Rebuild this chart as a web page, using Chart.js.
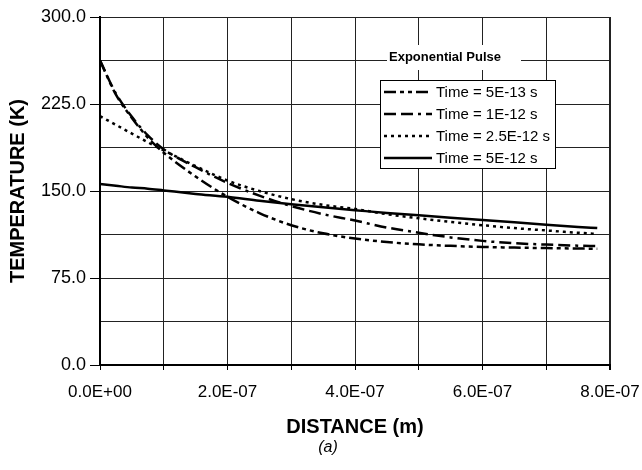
<!DOCTYPE html>
<html><head><meta charset="utf-8">
<script src="https://cdn.jsdelivr.net/npm/chart.js@4/dist/chart.umd.min.js"></script>
<style>html,body{margin:0;padding:0;background:#fff}#wrap{width:642px;height:470px;position:relative}canvas{display:block}</style>
</head><body><div id="wrap"><canvas id="c" width="642" height="470"></canvas></div>
<script>
// Distance along the sample (m)
const distance = [0,0.25e-7,0.5e-7,0.75e-7,1e-7,1.5e-7,2e-7,2.5e-7,3e-7,3.5e-7,4e-7,4.5e-7,5e-7,5.5e-7,6e-7,6.5e-7,7e-7,7.5e-7,7.8e-7];
// Temperature (K) for each time
const temp5e13  = [262.5,233,213,196,183,162.5,145,131,120.5,113.5,109,106,104,102.7,101.8,101.2,100.8,100.4,100.2];
const temp1e12  = [262.5,234,214,198,186,170.5,157,146,137,130,124.5,118.5,114,110,107,105,103.8,102.9,102.5];
const temp25e12 = [214.5,207,199.5,192,185,171.5,159,150,143,138,134.5,130,126.5,123.3,120.5,118,116,114,113];
const temp5e12  = [156,154.5,153,152,150.5,147.5,145,141.5,138.5,136,133.5,131,129,127,125,123,121,119,118];
const seriesLabels = ['Time = 5E-13 s','Time = 1E-12 s','Time = 2.5E-12 s','Time = 5E-12 s'];
const legendTitle = 'Exponential Pulse';
const xTitle = 'DISTANCE (m)';
const yTitle = 'TEMPERATURE (K)';
const caption = '(a)';

const FONT = "'Liberation Sans', Arial, sans-serif";
const pts = ys => ys.map((y,i)=>({x:distance[i], y}));
const dashes = [[12,4,4,4,4,4],[12,5,12,5,3,5],[3,4],[]];
const seriesValues = [temp5e13,temp1e12,temp25e12,temp5e12];

function fmtExp(v){
  if (Math.abs(v) < 1e-12) return '0.0E+00';
  const s = v.toExponential(1); const [m,e] = s.split('e');
  const n = parseInt(e,10); const sign = n<0?'-':'+';
  return m + 'E' + sign + String(Math.abs(n)).padStart(2,'0');
}

const legendPlugin = {
  id:'customLegend',
  afterDraw(chart){
    const ctx = chart.ctx, ca = chart.chartArea;
    ctx.save();
    // title with white background
    const tx = ca.left + 345, ty = ca.top + 40;
    ctx.fillStyle = '#fff';
    ctx.fillRect(ca.left + 287, ca.top + 28, 134, 25);
    ctx.font = "bold 13px " + FONT;
    ctx.fillStyle = '#000'; ctx.textAlign='center'; ctx.textBaseline='middle';
    ctx.fillText(legendTitle, tx, ty);
    // box
    const bx = ca.left + 280, by = ca.top + 63, bw = 175, bh = 88;
    ctx.fillStyle = '#fff'; ctx.fillRect(bx, by, bw, bh);
    ctx.strokeStyle = '#000'; ctx.lineWidth = 1; ctx.strokeRect(bx+0.5, by+0.5, bw, bh);
    ctx.font = "15px " + FONT; ctx.textAlign='left';
    chart.data.datasets.forEach((ds,i)=>{
      const y = by + 12 + i*22;
      ctx.beginPath(); ctx.setLineDash(ds.borderDash||[]); ctx.lineWidth = 2.5;
      ctx.moveTo(bx+4, y); ctx.lineTo(bx+52, y); ctx.stroke();
      ctx.setLineDash([]);
      ctx.fillStyle='#000'; ctx.fillText(ds.label, bx+56, y+1);
    });
    // caption
    ctx.font = "italic 16px " + FONT; ctx.textAlign='center';
    ctx.fillText(caption, (ca.left+ca.right)/2 - 27, ca.bottom + 83);
    ctx.restore();
  }
};

new Chart(document.getElementById('c'), {
  type:'line',
  data:{ datasets: seriesValues.map((v,i)=>({
    label: seriesLabels[i], data: pts(v), borderColor:'#000', borderWidth:2.5,
    borderDash: dashes[i], pointRadius:0, fill:false, cubicInterpolationMode:'monotone'
  }))},
  options:{
    responsive:false, animation:false, devicePixelRatio:1,
    layout:{padding:{top:17,right:32,left:0,bottom:20}},
    plugins:{ legend:{display:false}, tooltip:{enabled:false} },
    scales:{
      x:{type:'linear', min:0, max:8e-7,
        afterFit(s){ s.height = 85; s.paddingRight = 0; s.paddingLeft = 0; },
        border:{color:'#000', width:2},
        grid:{color:'#222', lineWidth: c => (c.tick && Math.abs(c.tick.value-8e-7)<1e-12) ? 2 : 1, tickLength:5, tickColor:'#000'},
        ticks:{stepSize:1e-7, autoSkip:false, maxRotation:0, color:'#000', padding:12,
          font:{family:FONT, size:17},
          callback:v => (Math.round(v/1e-7)%2===0 ? fmtExp(v) : '')},
        title:{display:true, text:xTitle, color:'#000', font:{family:FONT, size:20, weight:'bold'}, padding:{top:0,bottom:11}}
      },
      y:{min:0, max:300,
        afterFit(s){ s.width = 100; },
        border:{color:'#000', width:2},
        grid:{color:'#222', lineWidth:1, tickLength:10,
          tickColor: c => (c.tick && Math.abs(c.tick.value % 75) < 1e-6) ? '#000' : 'rgba(0,0,0,0)'},
        ticks:{stepSize:37.5, color:'#000', padding:4, font:{family:FONT, size:18},
          callback:v => (Math.abs(v % 75) < 1e-6 ? v.toFixed(1) : '')},
        title:{display:true, text:yTitle, color:'#000', font:{family:FONT, size:20, weight:'bold'}, padding:{top:6,bottom:0}}
      }
    }
  },
  plugins:[legendPlugin]
});
</script></body></html>
